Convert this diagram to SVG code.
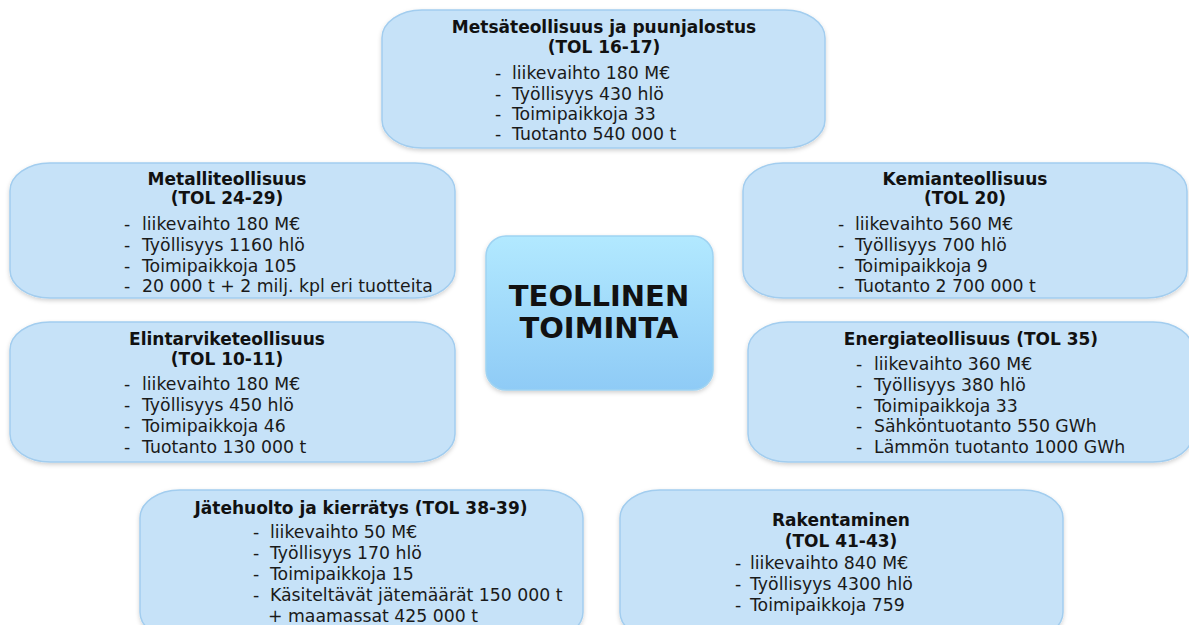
<svg xmlns="http://www.w3.org/2000/svg" width="1189" height="625" viewBox="0 0 1189 625">
<defs>
<linearGradient id="cg" x1="0" y1="0" x2="0" y2="1">
<stop offset="0" stop-color="#b2e9ff"/>
<stop offset="1" stop-color="#8fcbf6"/>
</linearGradient>
<filter id="sh" x="-10%" y="-10%" width="120%" height="130%">
<feDropShadow dx="0" dy="2" stdDeviation="2" flood-color="#000" flood-opacity="0.18"/>
</filter>
</defs>
<style>
.box{fill:#c6e2f8;stroke:#a2cdef;stroke-width:1.5;filter:url(#sh)}
.t{font-family:"DejaVu Sans",Verdana,sans-serif;font-size:17px;font-weight:bold;fill:#111;text-anchor:middle}
.b{font-family:"DejaVu Sans",Verdana,sans-serif;font-size:17.3px;fill:#1a1a1a}
.c{font-family:"DejaVu Sans",Verdana,sans-serif;font-size:29px;font-weight:bold;fill:#111;text-anchor:middle}
</style>
<rect width="1189" height="625" fill="#fff"/>
<g id="connectors"/>
<g id="n-metsa">
<rect class="box" x="382" y="10" width="443" height="138" rx="40" ry="28"/>
<text class="t" x="604" y="33">Metsäteollisuus ja puunjalostus</text>
<text class="t" x="604" y="53">(TOL 16-17)</text>
<text class="b" y="79"><tspan x="495">-</tspan><tspan x="512">liikevaihto 180 M€</tspan></text>
<text class="b" y="100"><tspan x="495">-</tspan><tspan x="512">Työllisyys 430 hlö</tspan></text>
<text class="b" y="120"><tspan x="495">-</tspan><tspan x="512">Toimipaikkoja 33</tspan></text>
<text class="b" y="140"><tspan x="495">-</tspan><tspan x="512">Tuotanto 540 000 t</tspan></text>
</g>
<g id="n-metalli">
<rect class="box" x="10" y="163" width="445" height="135" rx="40" ry="28"/>
<text class="t" x="227" y="185">Metalliteollisuus</text>
<text class="t" x="227" y="204">(TOL 24-29)</text>
<text class="b" y="230"><tspan x="124">-</tspan><tspan x="142">liikevaihto 180 M€</tspan></text>
<text class="b" y="251"><tspan x="124">-</tspan><tspan x="142">Työllisyys 1160 hlö</tspan></text>
<text class="b" y="272"><tspan x="124">-</tspan><tspan x="142">Toimipaikkoja 105</tspan></text>
<text class="b" y="292"><tspan x="124">-</tspan><tspan x="142">20 000 t + 2 milj. kpl eri tuotteita</tspan></text>
</g>
<g id="n-kemia">
<rect class="box" x="743" y="163" width="444" height="135" rx="40" ry="28"/>
<text class="t" x="965" y="185">Kemianteollisuus</text>
<text class="t" x="965" y="204">(TOL 20)</text>
<text class="b" y="230"><tspan x="838">-</tspan><tspan x="855">liikevaihto 560 M€</tspan></text>
<text class="b" y="251"><tspan x="838">-</tspan><tspan x="855">Työllisyys 700 hlö</tspan></text>
<text class="b" y="272"><tspan x="838">-</tspan><tspan x="855">Toimipaikkoja 9</tspan></text>
<text class="b" y="292"><tspan x="838">-</tspan><tspan x="855">Tuotanto 2 700 000 t</tspan></text>
</g>
<g id="n-elintarvike">
<rect class="box" x="10" y="322" width="445" height="140" rx="40" ry="28"/>
<text class="t" x="227" y="345">Elintarviketeollisuus</text>
<text class="t" x="227" y="365">(TOL 10-11)</text>
<text class="b" y="390"><tspan x="124">-</tspan><tspan x="142">liikevaihto 180 M€</tspan></text>
<text class="b" y="411"><tspan x="124">-</tspan><tspan x="142">Työllisyys 450 hlö</tspan></text>
<text class="b" y="432"><tspan x="124">-</tspan><tspan x="142">Toimipaikkoja 46</tspan></text>
<text class="b" y="453"><tspan x="124">-</tspan><tspan x="142">Tuotanto 130 000 t</tspan></text>
</g>
<g id="n-energia">
<rect class="box" x="748" y="322" width="445" height="140" rx="40" ry="28"/>
<text class="t" x="971" y="345">Energiateollisuus (TOL 35)</text>
<text class="b" y="370"><tspan x="856">-</tspan><tspan x="874">liikevaihto 360 M€</tspan></text>
<text class="b" y="391"><tspan x="856">-</tspan><tspan x="874">Työllisyys 380 hlö</tspan></text>
<text class="b" y="412"><tspan x="856">-</tspan><tspan x="874">Toimipaikkoja 33</tspan></text>
<text class="b" y="432"><tspan x="856">-</tspan><tspan x="874">Sähköntuotanto 550 GWh</tspan></text>
<text class="b" y="453"><tspan x="856">-</tspan><tspan x="874">Lämmön tuotanto 1000 GWh</tspan></text>
</g>
<g id="n-jatehuolto">
<rect class="box" x="140" y="490" width="443" height="150" rx="40" ry="28"/>
<text class="t" x="361" y="514">Jätehuolto ja kierrätys (TOL 38-39)</text>
<text class="b" y="538"><tspan x="253">-</tspan><tspan x="270">liikevaihto 50 M€</tspan></text>
<text class="b" y="559"><tspan x="253">-</tspan><tspan x="270">Työllisyys 170 hlö</tspan></text>
<text class="b" y="580"><tspan x="253">-</tspan><tspan x="270">Toimipaikkoja 15</tspan></text>
<text class="b" y="601"><tspan x="253">-</tspan><tspan x="270">Käsiteltävät jätemäärät 150 000 t</tspan></text>
<text class="b" y="622"><tspan x="268">+ maamassat 425 000 t</tspan></text>
</g>
<g id="n-rakentaminen">
<rect class="box" x="620" y="490" width="443" height="150" rx="40" ry="28"/>
<text class="t" x="841" y="526">Rakentaminen</text>
<text class="t" x="841" y="547">(TOL 41-43)</text>
<text class="b" y="569"><tspan x="735">-</tspan><tspan x="750">liikevaihto 840 M€</tspan></text>
<text class="b" y="590"><tspan x="735">-</tspan><tspan x="750">Työllisyys 4300 hlö</tspan></text>
<text class="b" y="611"><tspan x="735">-</tspan><tspan x="750">Toimipaikkoja 759</tspan></text>
</g>
<g id="n-center">
<rect x="486" y="236" width="227" height="154" rx="20" ry="20" fill="url(#cg)" stroke="#9fd3f2" stroke-width="1.5" filter="url(#sh)"/>
<text class="c" x="599" y="306">TEOLLINEN</text>
<text class="c" x="599" y="338">TOIMINTA</text>
</g>
</svg>
